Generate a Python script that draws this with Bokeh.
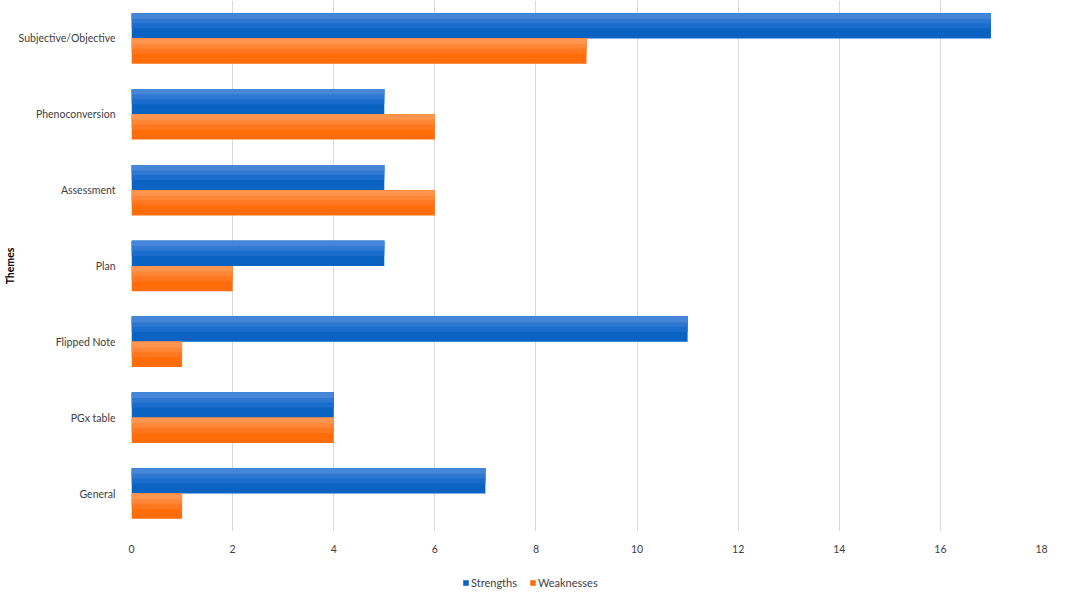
from bokeh.plotting import figure
from bokeh.models import FactorRange, ColumnDataSource, Legend, LegendItem, Range1d, FixedTicker
from bokeh.layouts import column
from bokeh.transform import dodge
from bokeh.embed import file_html
from bokeh.resources import INLINE

themes = ["Subjective/Objective", "Phenoconversion", "Assessment", "Plan",
          "Flipped Note", "PGx table", "General"]
strengths = [17, 5, 5, 5, 11, 4, 7]
weaknesses = [9, 6, 6, 2, 1, 4, 1]
x_ticks = [0, 2, 4, 6, 8, 10, 12, 14, 16, 18]

src = ColumnDataSource(dict(theme=themes, strengths=strengths, weaknesses=weaknesses))

FONT = "Lato"
p = figure(width=1049, height=557, output_backend="svg", toolbar_location=None,
           y_range=FactorRange(factors=list(reversed(themes)), range_padding=0),
           x_range=Range1d(0, 18),
           min_border_left=112, min_border_right=8, min_border_top=0, min_border_bottom=26)
p.outline_line_color = None
p.background_fill_color = "white"

bar_h = 0.333
overlay_fracs = [0.6, 0.4, 0.22]
blue_base = "#0a63c3"
blue_cols = ["#1a6dcc", "#2e78d2", "#4686d8"]
orange_base = "#ff6c0a"
orange_cols = ["#ff7820", "#ff8636", "#ff954e"]

def draw(field, top, base, cols):
    p.hbar(y=dodge("theme", top - bar_h / 2, range=p.y_range), right=field, left=0,
           height=bar_h, source=src, fill_color=base, line_color=None)
    for f, c in zip(overlay_fracs, cols):
        h = f * bar_h
        p.hbar(y=dodge("theme", top - h / 2, range=p.y_range), right=field, left=0,
               height=h, source=src, fill_color=c, line_color=None)

draw("strengths", bar_h, blue_base, blue_cols)
draw("weaknesses", 0.0, orange_base, orange_cols)

p.xgrid.grid_line_color = "#d9d9d9"
p.xgrid.grid_line_width = 1
p.ygrid.grid_line_color = None
p.xaxis.ticker = FixedTicker(ticks=x_ticks)

for ax in (p.xaxis, p.yaxis):
    ax.axis_line_color = None
    ax.major_tick_line_color = None
    ax.minor_tick_line_color = None
    ax.major_label_text_font = FONT
    ax.major_label_text_font_size = "10.5px"
    ax.major_label_text_color = "#404040"

p.xaxis.major_label_standoff = 7
p.yaxis.major_label_standoff = 10
p.yaxis.axis_label = "Themes"
p.yaxis.axis_label_text_font = FONT
p.yaxis.axis_label_text_font_style = "bold"
p.yaxis.axis_label_text_font_size = "10.5px"
p.yaxis.axis_label_text_color = "#000000"
p.yaxis.axis_label_standoff = 0

# legend strip (its frame is aligned with the main figure's frame)
lg = figure(width=1049, height=35, output_backend="svg", toolbar_location=None,
            x_range=Range1d(0, 1), y_range=Range1d(0, 1),
            min_border=0, min_border_left=0, min_border_right=0,
            min_border_top=0, min_border_bottom=0)
lg.axis.visible = False
lg.grid.visible = False
lg.outline_line_color = None
ls = lg.hbar(y=[-5], right=[1], height=0.1, fill_color=blue_base, line_color=None)
lw = lg.hbar(y=[-5], right=[1], height=0.1, fill_color=orange_base, line_color=None)

legend = Legend(items=[LegendItem(label="Strengths", renderers=[ls]),
                       LegendItem(label="Weaknesses", renderers=[lw])],
                orientation="horizontal", location=(331, 3))
legend.label_text_font = FONT
legend.label_text_font_size = "11px"
legend.label_text_color = "#404040"
legend.label_height = 11
legend.glyph_width = 7
legend.glyph_height = 7
legend.label_standoff = 2
legend.spacing = 12
legend.padding = 2
legend.margin = 0
legend.border_line_color = None
legend.background_fill_alpha = 0
lg.add_layout(legend, "center")

open("out.html", "w").write(file_html(column(p, lg, spacing=0), INLINE))
